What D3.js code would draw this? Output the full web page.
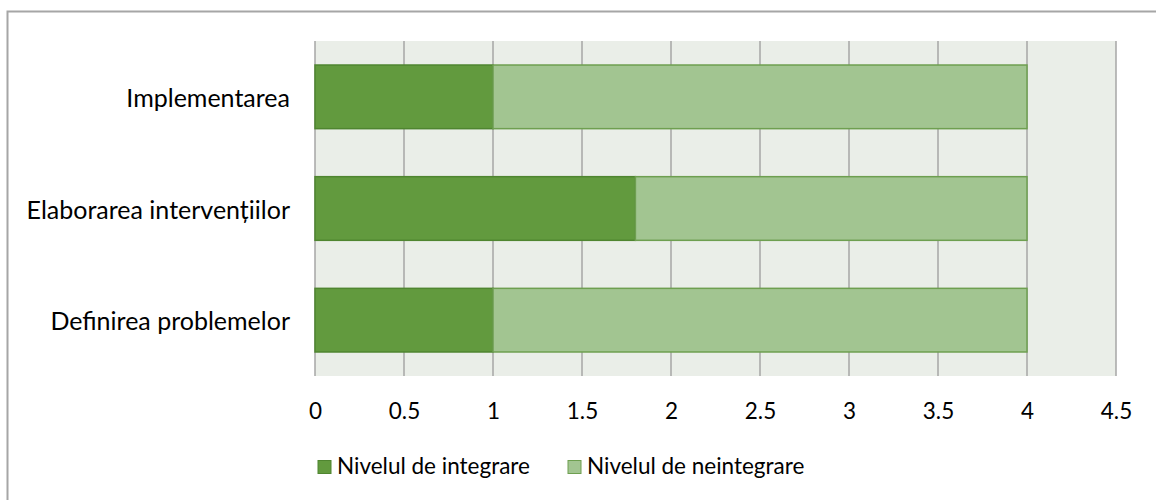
<!DOCTYPE html>
<html><head><meta charset="utf-8">
<script src="https://cdn.jsdelivr.net/npm/d3@7"></script>
<style>body{margin:0;background:#fff;}svg{display:block;font-family:Lato,"Open Sans",sans-serif;}</style>
</head><body>
<svg id="c" width="1156" height="500"></svg>
<script>
const categories = ["Implementarea", "Elaborarea intervențiilor", "Definirea problemelor"];
const integrare = [1, 1.8, 1];
const neintegrare = [3, 2.2, 3];
const tickValues = [0, 0.5, 1, 1.5, 2, 2.5, 3, 3.5, 4, 4.5];
const seriesNames = ["Nivelul de integrare", "Nivelul de neintegrare"];
const colors = ["#629A3E", "#A2C591"];
const strokes = ["#4F8530", "#6E9F50"];

const svg = d3.select("#c");
const pL = 315, pR = 1116, pT = 41, pB = 376;
const x = d3.scaleLinear().domain([0, 4.5]).range([pL, pR]);
const y = d3.scaleBand().domain(categories).range([pT, pB]).paddingInner(0.43).paddingOuter(0.215);

// outer border
svg.append("path").attr("d", "M7.5,500 L7.5,11.5 L1156,11.5").attr("fill", "none").attr("stroke", "#A6A6A6").attr("stroke-width", 2);

// plot background
svg.append("rect").attr("x", pL).attr("y", pT).attr("width", pR - pL).attr("height", pB - pT).attr("fill", "#EAEEE8");

// gridlines
svg.append("g").selectAll("line").data(tickValues).join("line")
  .attr("x1", d => x(d)).attr("x2", d => x(d)).attr("y1", pT).attr("y2", pB)
  .attr("stroke", "#A6A6A6").attr("stroke-width", 1.5);

// stacked data
const stackData = categories.map((c, i) => ({cat: c, a: integrare[i], b: neintegrare[i]}));
const stack = d3.stack().keys(["a", "b"])(stackData);

svg.append("g").selectAll("g").data(stack).join("g")
  .attr("fill", (d, i) => colors[i]).attr("stroke", (d, i) => strokes[i]).attr("stroke-width", 1.5)
  .selectAll("rect").data(d => d).join("rect")
  .attr("x", d => x(d[0])).attr("width", d => x(d[1]) - x(d[0]))
  .attr("y", d => y(d.data.cat)).attr("height", y.bandwidth());

// category labels
svg.append("g").selectAll("text").data(categories).join("text")
  .attr("x", pL - 25).attr("y", d => y(d) + y.bandwidth() / 2)
  .attr("text-anchor", "end").attr("dominant-baseline", "central")
  .attr("font-size", 25).attr("fill", "#000").text(d => d);

// x tick labels
const xAxis = d3.axisBottom(x).tickValues(tickValues).tickSize(0).tickPadding(0).tickFormat(d3.format("~g"));
const ax = svg.append("g").attr("transform", `translate(0,${pB + 27})`).call(xAxis);
ax.select(".domain").remove();
ax.selectAll("text").attr("font-size", 22.5).attr("font-family", "Lato").attr("fill", "#000");

// legend
const legendX = [318, 568];
const lg = svg.append("g").selectAll("g").data(seriesNames).join("g")
  .attr("transform", (d, i) => `translate(${legendX[i]},460)`);
lg.append("rect").attr("width", 13).attr("height", 13).attr("y", 0.5)
  .attr("fill", (d, i) => colors[i]).attr("stroke", (d, i) => strokes[i]).attr("stroke-width", 1);
lg.append("text").attr("x", 19).attr("y", 14).attr("dominant-baseline", "alphabetic")
  .attr("font-size", 22.5).attr("fill", "#000").text(d => d);
</script>
</body></html>
